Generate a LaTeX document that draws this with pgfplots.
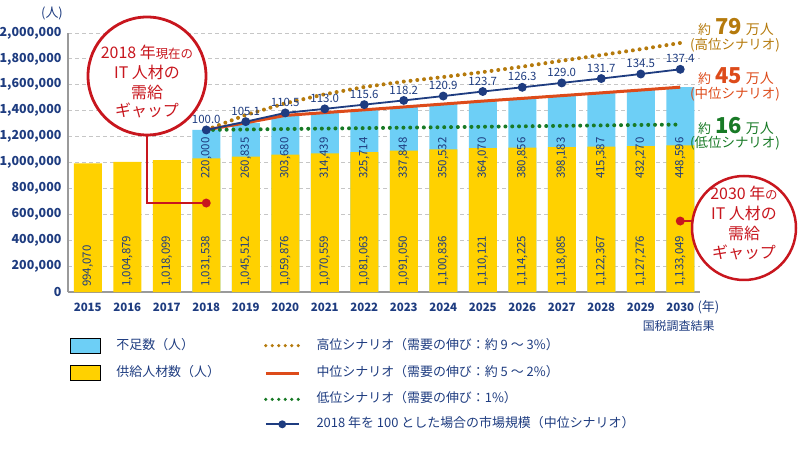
\documentclass[border=0pt]{standalone}
\usepackage{fontspec}
\setmainfont{Noto Sans CJK JP}
\usepackage{pgfplots}
\pgfplotsset{compat=1.18}
\usepackage{pgfplotstable}
\definecolor{navy}{HTML}{1E3C80}
\definecolor{gapblue}{HTML}{6DCFF6}
\definecolor{supyellow}{HTML}{FFD100}
\definecolor{hibrown}{HTML}{B57A0C}
\definecolor{midorange}{HTML}{DD4B1A}
\definecolor{lowgreen}{HTML}{187A26}
\definecolor{callred}{HTML}{C8161E}
\definecolor{axisgray}{HTML}{9A9A9A}
\newcommand{\fs}[1]{\fontsize{#1}{#1}\selectfont}
\pgfplotsset{
  boxlegend/.style={legend image code/.code={\fill[##1] (0bp,-7.5bp) rectangle (30bp,7.5bp);}},
  linelegend/.style={legend image code/.code={\draw[##1] (0bp,0bp) -- (33bp,0bp);}},
  marklegend/.style={legend image code/.code={\draw[##1] (0bp,0bp) -- (33bp,0bp); \fill[navy] (16.5bp,0bp) circle (3bp);}},
}
\pgfplotstableread{
x supply slab
0 994070 994,070
1 1004879 1,004,879
2 1018099 1,018,099
3 1031538 1,031,538
4 1045512 1,045,512
5 1059876 1,059,876
6 1070559 1,070,559
7 1081063 1,081,063
8 1091050 1,091,050
9 1100836 1,100,836
10 1110121 1,110,121
11 1114225 1,114,225
12 1118085 1,118,085
13 1122367 1,122,367
14 1127276 1,127,276
15 1133049 1,133,049
}\supplydata
\pgfplotstableread{
x total gap glab lpos
3 1251538 220000 220,000 1195000
4 1306347 260835 260,835 1195000
5 1363556 303680 303,680 1195000
6 1384998 314439 314,439 1195000
7 1406777 325714 325,714 1195000
8 1428898 337848 337,848 1195000
9 1451368 350532 350,532 1195000
10 1474191 364070 364,070 1195000
11 1495081 380856 380,856 1195000
12 1516268 398183 398,183 1195000
13 1537754 415387 415,387 1195000
14 1559546 432270 432,270 1195000
15 1581645 448596 448,596 1195000
}\gapdata
\pgfplotstableread{
x high low idx ilab
3 1251538 1251538 1251538 100.0
4 1367000 1255000 1315366 105.1
5 1457000 1258500 1382949 110.5
6 1527000 1262000 1414238 113.0
7 1583000 1265500 1446778 115.6
8 1625000 1269000 1479318 118.2
9 1660000 1272500 1513110 120.9
10 1698000 1276000 1548152 123.7
11 1740000 1279500 1580692 126.3
12 1786000 1283000 1614484 129.0
13 1830000 1286500 1648276 131.7
14 1875000 1290000 1683319 134.5
15 1923000 1293000 1719613 137.4
}\scendata
\begin{document}
\begin{tikzpicture}
\useasboundingbox (0,0) rectangle (800bp,454bp);
\begin{axis}[
  at={(68bp,162bp)}, anchor=south west,
  scale only axis, width=632bp, height=259bp,
  xmin=-0.5, xmax=15.5, ymin=0, ymax=2000000,
  clip=false,
  axis x line*=bottom, axis y line*=left,
  axis line style={draw=axisgray, line width=1.5bp, -},
  major tick length=0pt,
  xtick={0,...,15},
  xticklabels={2015,2016,2017,2018,2019,2020,2021,2022,2023,2024,2025,2026,2027,2028,2029,2030},
  ytick={0,200000,...,2000000},
  scaled y ticks=false,
  /pgf/number format/assume math mode=true,
  yticklabel style={/pgf/number format/.cd, fixed, 1000 sep={,}, /tikz/.cd, font=\bfseries\fs{12.5}, text=navy, xshift=-3bp},
  xticklabel style={font=\bfseries\fs{11.5}, text=navy, yshift=-8bp},
  ymajorgrids,
  grid style={dash pattern=on 4bp off 3bp, draw=gray!45, line width=0.8bp},
  legend columns=2,
  legend cell align=left,
  legend style={at={(0,0)}, anchor=north west, xshift=2bp, yshift=-46bp,
    draw=none, fill=none, inner sep=0pt, outer sep=0pt, row sep=12bp,
    font=\fs{13}, text=navy,
    nodes={inner sep=0pt, text height=10bp, text depth=3bp},
    /tikz/every odd column/.style={column sep=16bp},
    /tikz/every even column/.style={column sep=44bp}},
]
% bars
\addplot[forget plot, ybar, bar width=28bp, bar shift=0pt, fill=gapblue, draw=none]
  table[x=x, y=total]{\gapdata};
\addplot[forget plot, ybar, bar width=28bp, bar shift=0pt, fill=supyellow, draw=none,
  visualization depends on={y \as \rawy},
  nodes near coords, point meta=explicit symbolic,
  nodes near coords style={shift={(axis direction cs:0,-\rawy)}, rotate=90, anchor=west,
    inner xsep=5bp, inner ysep=0pt, font=\fs{11.5}, text=navy}]
  table[x=x, y=supply, meta=slab]{\supplydata};
\addplot[forget plot, draw=none, no marks,
  nodes near coords, point meta=explicit symbolic,
  nodes near coords style={rotate=90, anchor=east, inner sep=0pt,
    font=\fs{11.5}, text=navy}]
  table[x=x, y=lpos, meta=glab]{\gapdata};
% lines
\addplot[forget plot, hibrown, line width=4bp, line cap=round, dash pattern=on 0bp off 6.8bp]
  table[x=x, y=high]{\scendata};
\addplot[forget plot, midorange, line width=3bp]
  table[x=x, y=total]{\gapdata};
\addplot[forget plot, lowgreen, line width=4bp, line cap=round, dash pattern=on 0bp off 6.8bp]
  table[x=x, y=low]{\scendata};
\addplot[forget plot, navy, line width=1.8bp, mark=*, mark size=3.5bp, mark options={fill=navy, draw=navy},
  nodes near coords, point meta=explicit symbolic,
  nodes near coords style={anchor=south, yshift=2bp, font=\fs{11.5}, text=navy}]
  table[x=x, y=idx, meta=ilab]{\scendata};
% legend
\addlegendimage{boxlegend, fill=gapblue}
\addlegendentry{不足数（人）}
\addlegendimage{linelegend, hibrown, line width=3.5bp, line cap=round, dash pattern=on 0bp off 6.5bp}
\addlegendentry{高位シナリオ（需要の伸び：約 9 ～ 3\%）}
\addlegendimage{boxlegend, fill=supyellow}
\addlegendentry{供給人材数（人）}
\addlegendimage{linelegend, midorange, line width=3bp}
\addlegendentry{中位シナリオ（需要の伸び：約 5 ～ 2\%）}
\addlegendimage{empty legend}
\addlegendentry{}
\addlegendimage{linelegend, lowgreen, line width=3.5bp, line cap=round, dash pattern=on 0bp off 6.5bp}
\addlegendentry{低位シナリオ（需要の伸び：1\%）}
\addlegendimage{empty legend}
\addlegendentry{}
\addlegendimage{marklegend, navy, line width=1.8bp}
\addlegendentry{2018 年を 100 とした場合の市場規模（中位シナリオ）}
\coordinate (dotA) at (axis cs:3,687000);
\coordinate (dotB) at (axis cs:15,548000);
\end{axis}
% callout 1
\draw[callred, line width=2.5bp] (147bp,319bp) |- (dotA);
\fill[callred] (dotA) circle (4.5bp);
\draw[callred, line width=2.8bp, fill=white] (147bp,378bp) circle (59bp);
\node[text=callred, font=\fs{16}] at (147bp,402bp) {2018 年{\fs{12.5}現在の}};
\node[text=callred, font=\fs{16}] at (147bp,382bp) {IT 人材の};
\node[text=callred, font=\fs{16}] at (147bp,362bp) {需給};
\node[text=callred, font=\fs{16}] at (147bp,344bp) {ギャップ};
% callout 2
\draw[callred, line width=2.5bp] (dotB) -- (694bp,0 |- dotB);
\fill[callred] (dotB) circle (4.5bp);
\draw[callred, line width=2.5bp, fill=white] (744bp,226bp) circle (52bp);
\node[text=callred, font=\fs{16}] at (744bp,261bp) {2030 年{\fs{12.5}の}};
\node[text=callred, font=\fs{16}] at (744bp,241bp) {IT 人材の};
\node[text=callred, font=\fs{16}] at (744bp,221bp) {需給};
\node[text=callred, font=\fs{16}] at (744bp,202bp) {ギャップ};
% right labels
\node[text=hibrown] at (736bp,427bp) {{\fs{13}約}\hspace{4bp}{\fs{22}\bfseries 79}\hspace{4bp}{\fs{14}万人}};
\node[text=hibrown, font=\fs{13.5}] at (735bp,409bp) {(高位シナリオ)};
\node[text=midorange] at (736bp,378bp) {{\fs{13}約}\hspace{4bp}{\fs{22}\bfseries 45}\hspace{4bp}{\fs{14}万人}};
\node[text=midorange, font=\fs{13.5}] at (735bp,360bp) {(中位シナリオ)};
\node[text=lowgreen] at (736bp,328bp) {{\fs{13}約}\hspace{4bp}{\fs{22}\bfseries 16}\hspace{4bp}{\fs{14}万人}};
\node[text=lowgreen, font=\fs{13.5}] at (735bp,311bp) {(低位シナリオ)};
% units and source
\node[text=navy, font=\fs{13}] at (52bp,441bp) {(人)};
\node[text=navy, font=\fs{13}, anchor=west] at (694bp,147bp) {(年)};
\node[text=navy, font=\fs{12}, anchor=east] at (718bp,128bp) {国税調査結果};
\end{tikzpicture}
\end{document}
